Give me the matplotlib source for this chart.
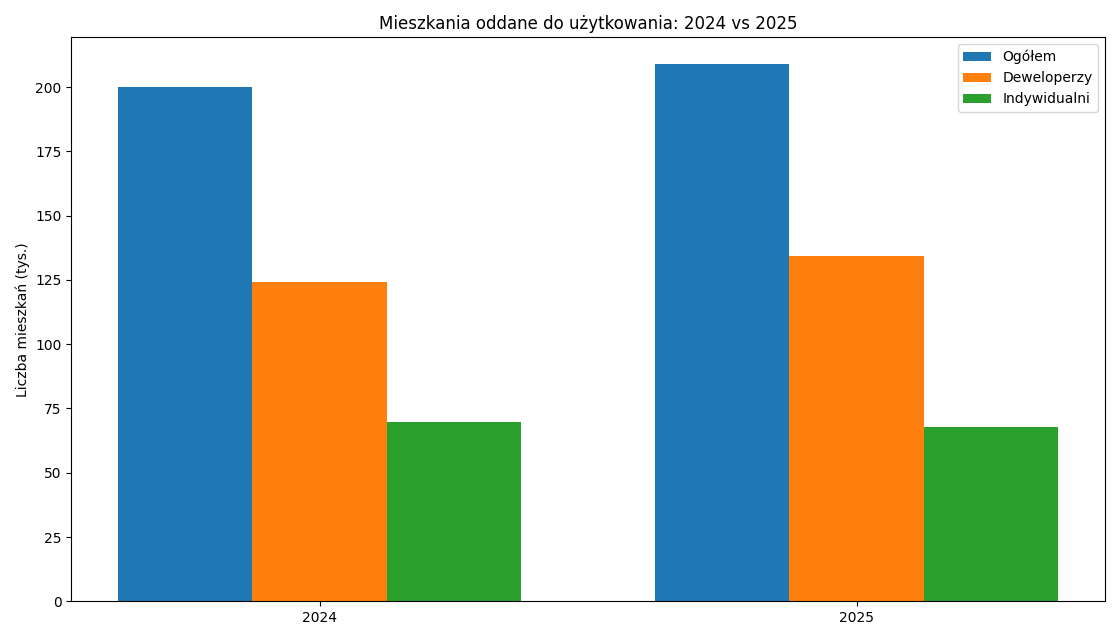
import matplotlib
matplotlib.use("Agg")
import matplotlib.pyplot as plt
import numpy as np

YEARS = ["2024", "2025"]
SERIES = ["Ogółem", "Deweloperzy", "Indywidualni"]
OGOLEM = [200.0, 208.9]
DEWELOPERZY = [124.1, 134.2]
INDYWIDUALNI = [69.7, 67.7]

values = [OGOLEM, DEWELOPERZY, INDYWIDUALNI]
colors = ["#1f77b4", "#ff7f0e", "#2ca02c"]

fig, ax = plt.subplots(figsize=(11.2, 6.4), dpi=100)
xs = np.arange(len(YEARS))
width = 0.25
for i, (name, vals) in enumerate(zip(SERIES, values)):
    ax.bar(xs + (i - 1) * width, vals, width, label=name, color=colors[i])

ax.set_xticks(xs)
ax.set_xticklabels(YEARS)
ax.set_ylabel("Liczba mieszkań (tys.)")
ax.set_title("Mieszkania oddane do użytkowania: 2024 vs 2025")
ax.legend(loc="upper right")
fig.tight_layout()
fig.savefig("out.png", dpi=100)
